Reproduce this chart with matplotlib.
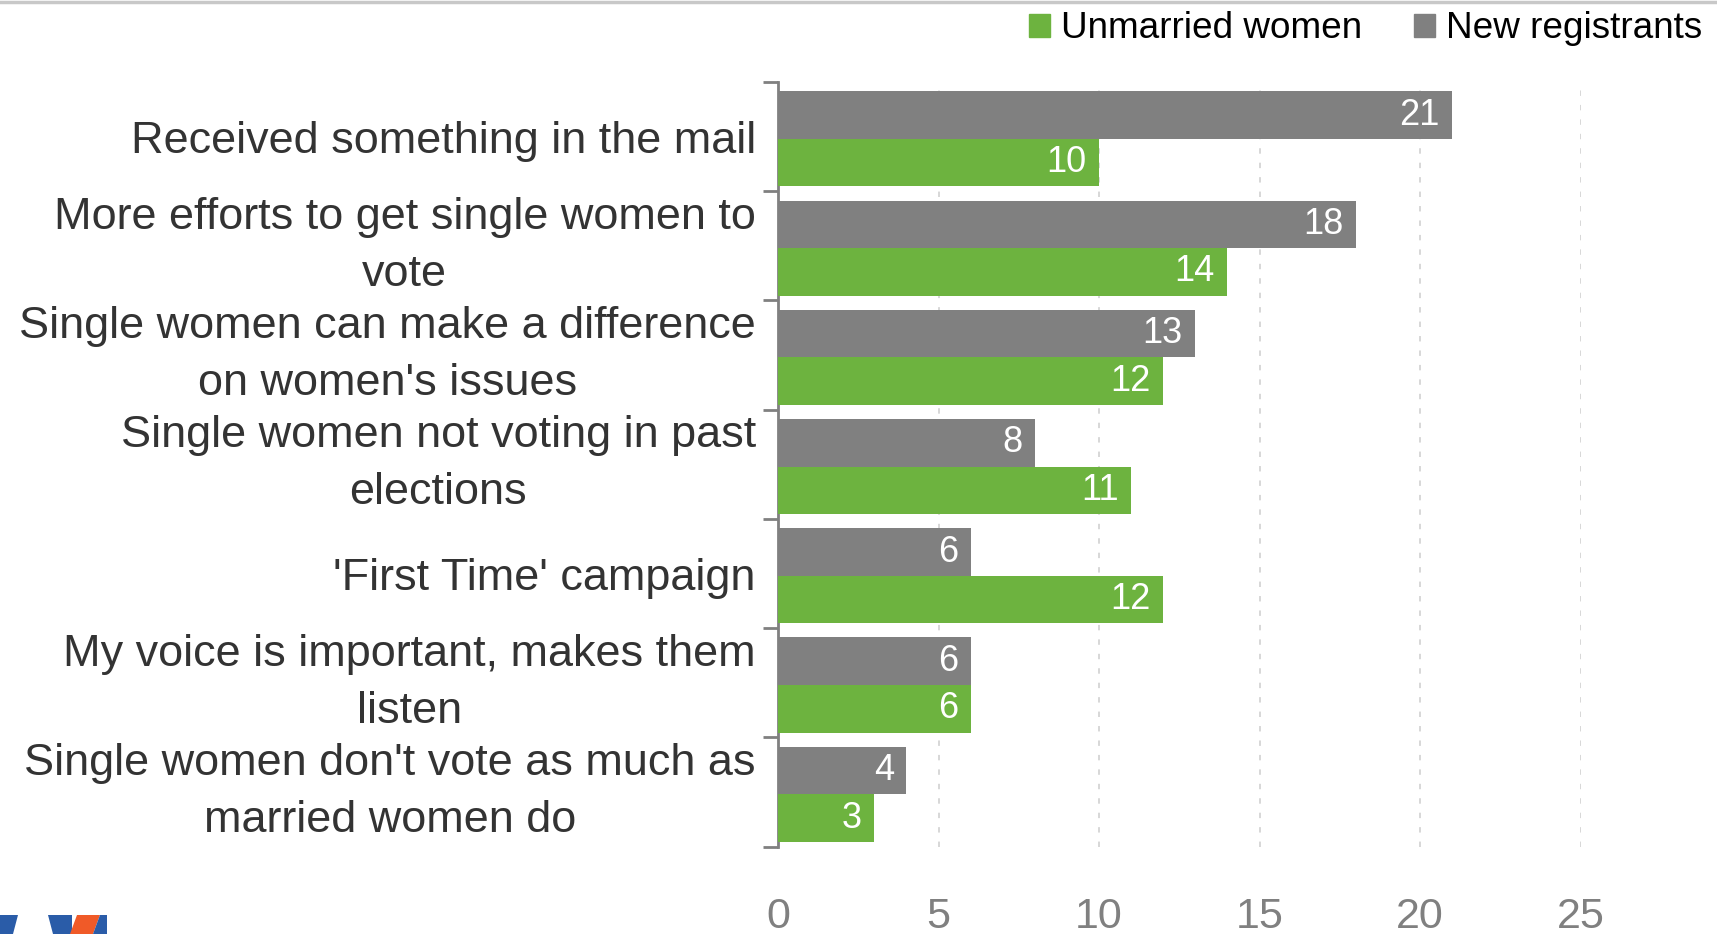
import matplotlib
matplotlib.use("Agg")
import matplotlib.pyplot as plt
from matplotlib.patches import Polygon, Patch
from matplotlib.lines import Line2D

plt.rcParams['font.family'] = ['Liberation Sans', 'DejaVu Sans']

# data
categories = [
    "Received something in the mail",
    "More efforts to get single women to\nvote",
    "Single women can make a difference\non women's issues",
    "Single women not voting in past\nelections",
    "'First Time' campaign",
    "My voice is important, makes them\nlisten",
    "Single women don't vote as much as\nmarried women do",
]
new_registrants = [21, 18, 13, 8, 6, 6, 4]
unmarried_women = [10, 14, 12, 11, 12, 6, 3]
x_ticks = [0, 5, 10, 15, 20, 25]

GREEN = "#6db33f"
GRAY = "#808080"

W, H = 1717, 934
fig = plt.figure(figsize=(W / 100, H / 100), dpi=100)

# axes placed in pixel terms
left, right, top, bottom = 778, 1580.5, 82, 846.7
ax = fig.add_axes([left / W, 1 - bottom / H, (right - left) / W, (bottom - top) / H])

pos = list(range(len(categories)))
bh = 0.435
gray_y = [p - bh / 2 + 0.02 for p in pos]
green_y = [p + bh / 2 + 0.02 for p in pos]

gbars = ax.barh(gray_y, new_registrants, height=bh, color=GRAY, zorder=3)
ubars = ax.barh(green_y, unmarried_women, height=bh, color=GREEN, zorder=3)

# white value labels inside bar ends
for bars, vals in ((gbars, new_registrants), (ubars, unmarried_women)):
    for b, v in zip(bars, vals):
        ax.annotate(str(v), (b.get_width(), b.get_y() + b.get_height() / 2),
                    xytext=(-9, 0), textcoords="offset points",
                    ha="right", va="center", color="white", fontsize=26, zorder=4)

ax.set_xlim(0, 25)
ax.set_ylim(len(categories) - 0.5, -0.5)

ax.set_xticks(x_ticks)
ax.set_xticklabels([str(t) for t in x_ticks])
ax.tick_params(axis="x", length=0, pad=36, labelsize=31, labelcolor=GRAY)

ax.set_yticks(pos)
ax.set_yticklabels(categories, fontsize=32.4, color="#333333",
                   multialignment="center", linespacing=1.5)
# two-line labels sit centred on the band
for lab in ax.get_yticklabels():
    if "\n" in lab.get_text():
        lab.set_va("center")
ax.tick_params(axis="y", which="major", length=0, pad=16)
ax.set_yticks([p - 0.5 for p in pos] + [len(categories) - 0.5], minor=True)
ax.tick_params(axis="y", which="minor", length=11, width=2, color=GRAY)

for s in ("top", "right", "bottom"):
    ax.spines[s].set_visible(False)
ax.spines["left"].set_color(GRAY)
ax.spines["left"].set_linewidth(2)

ax.grid(axis="x", color="#d4d4d4", linestyle=(0, (3, 5)), linewidth=1.3, zorder=0)
ax.grid(axis="y", visible=False)
ax.grid(axis="y", which="minor", visible=False)

# legend at top right
handles = [Patch(color=GREEN), Patch(color=GRAY)]
fig.legend(handles, ["Unmarried women", "New registrants"], loc="center right",
           bbox_to_anchor=(1702 / W, 1 - 29 / H), ncol=2, frameon=False,
           fontsize=26.6, handlelength=0.57, handleheight=0.57, handletextpad=0.3,
           columnspacing=1.4, borderaxespad=0, borderpad=0)

# thin line along the top edge
fig.add_artist(Line2D([0, 1], [1 - 1.5 / H, 1 - 1.5 / H], transform=fig.transFigure,
                      color="#c8c8c8", linewidth=2.5))

# partial logo at bottom left
def px(points):
    return [(x / W, 1 - y / H) for x, y in points]

logo = [
    ([(0, 915), (18, 915), (13, 934), (0, 934)], "#2a5ca8"),
    ([(48, 915), (72, 915), (72, 934), (53, 934)], "#2a5ca8"),
    ([(77, 915), (100, 915), (93, 934), (70, 934)], "#f05a28"),
    ([(100, 915), (107, 915), (107, 934), (93, 934)], "#2a5ca8"),
]
for pts, col in logo:
    fig.add_artist(Polygon(px(pts), closed=True, transform=fig.transFigure,
                           facecolor=col, edgecolor="none"))

fig.savefig("out.png", dpi=100)
